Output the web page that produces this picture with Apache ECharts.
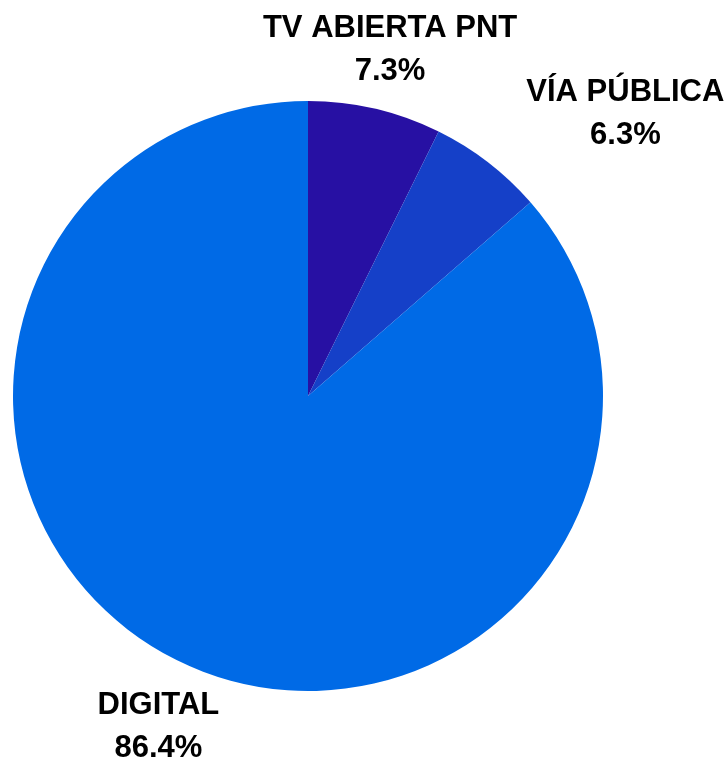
<!DOCTYPE html>
<html>
<head>
<meta charset="utf-8">
<script src="https://cdn.jsdelivr.net/npm/echarts@6/dist/echarts.min.js"></script>
<style>html,body{margin:0;padding:0;background:#fff;}#c{width:726px;height:758px;}</style>
</head>
<body>
<div id="c"></div>
<script>
const categories = ['TV ABIERTA PNT', 'VÍA PÚBLICA', 'DIGITAL'];
const values = [7.3, 6.3, 86.4];
const colors = ['#2710a3', '#1540c8', '#006ae6'];

const data = categories.map((n, i) => ({ name: n, value: values[i], itemStyle: { color: colors[i] } }));
const ghost = categories.map((n, i) => ({ name: n, value: values[i] }));
const labelShift = [[0, 6], [97, 4], [0, 2]];

const chart = echarts.init(document.getElementById('c'));
chart.setOption({
  animation: false,
  backgroundColor: '#ffffff',
  series: [
    {
      type: 'pie',
      center: [308, 396],
      radius: [0, 295],
      startAngle: 90,
      clockwise: true,
      silent: true,
      label: { show: false },
      labelLine: { show: false },
      data: data
    },
    {
      type: 'pie',
      center: [308, 396],
      radius: [295, 421],
      startAngle: 90,
      clockwise: true,
      silent: true,
      itemStyle: { color: 'rgba(0,0,0,0)' },
      label: {
        show: true,
        position: 'inside',
        formatter: p => p.name + '\n' + p.value.toFixed(1) + '%',
        fontFamily: 'Liberation Sans, Arial, sans-serif',
        fontWeight: 'bold',
        fontSize: 31,
        lineHeight: 43,
        color: '#000',
        align: 'center'
      },
      labelLine: { show: false },
      labelLayout: p => ({ dx: labelShift[p.dataIndex][0], dy: labelShift[p.dataIndex][1] }),
      data: ghost
    }
  ]
});
</script>
</body>
</html>
